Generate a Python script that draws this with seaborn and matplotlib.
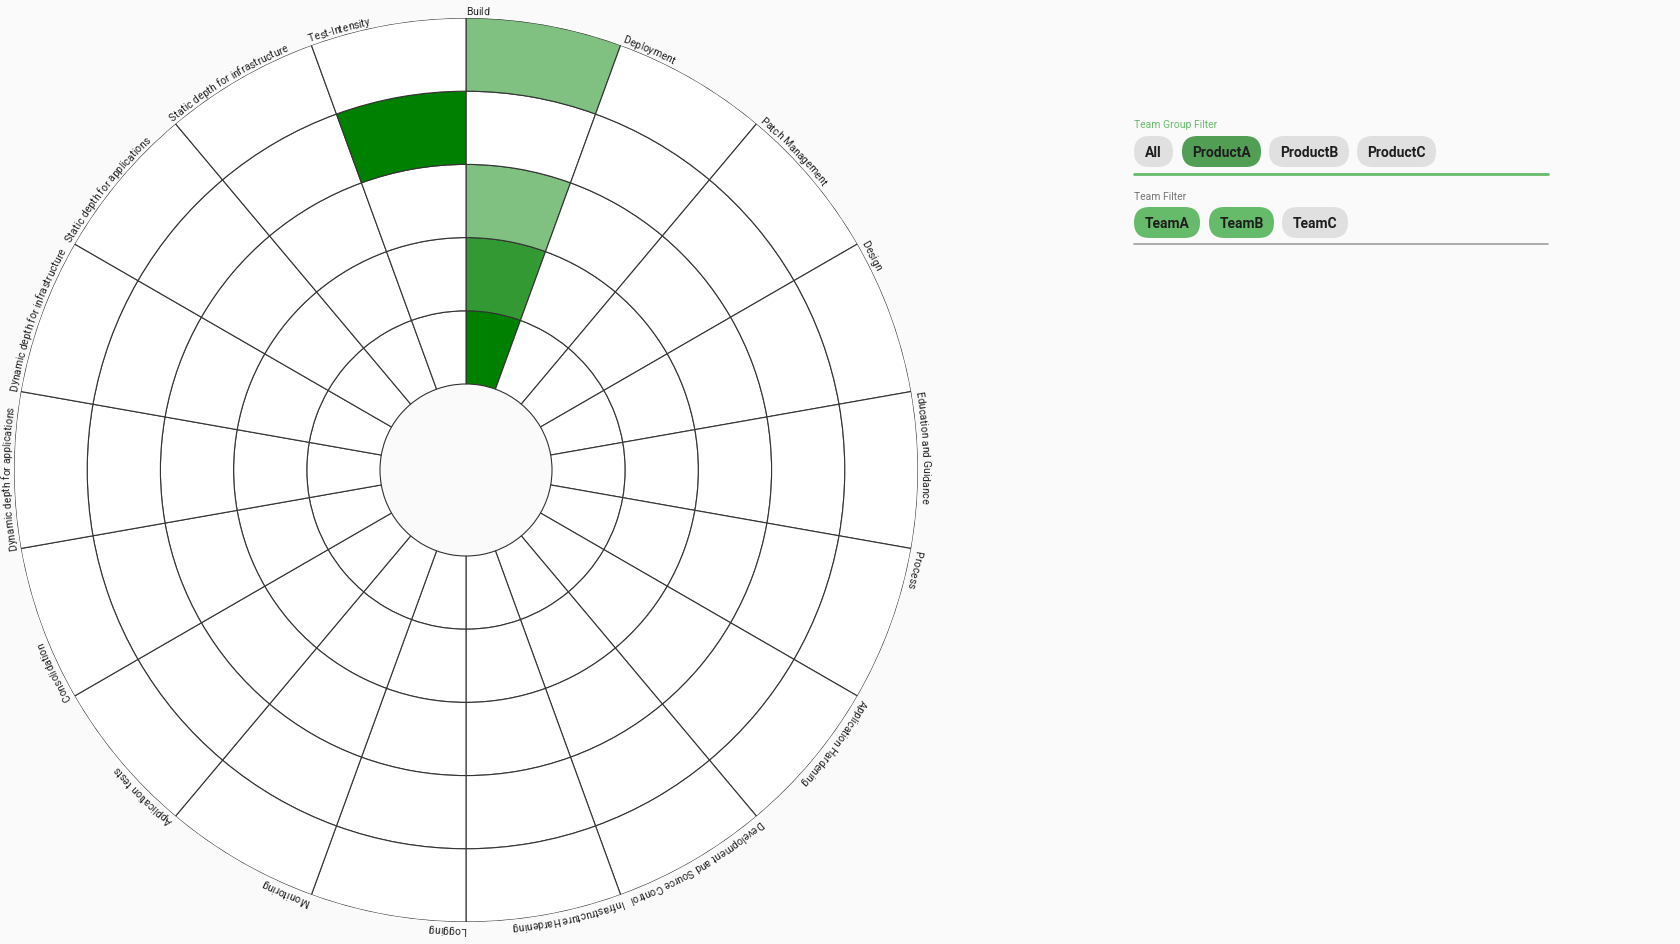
import numpy as np
import matplotlib
matplotlib.use("Agg")
import matplotlib.pyplot as plt
from matplotlib.patches import FancyBboxPatch
from matplotlib.colors import to_rgb
from matplotlib.font_manager import FontProperties, findfont, get_font
import seaborn as sns

# ---- data -------------------------------------------------------------
dimensions = [
    "Build", "Deployment", "Patch Management", "Design",
    "Education and Guidance", "Process", "Application Hardening",
    "Development and Source Control", "Infrastructure Hardening", "Logging",
    "Monitoring", "Application tests", "Consolidation",
    "Dynamic depth for applications", "Dynamic depth for infrastructure",
    "Static depth for applications", "Static depth for infrastructure",
    "Test-Intensity",
]
levels = [1, 2, 3, 4, 5]
# share of implemented activities per dimension and level (0 = none)
build_progress = [1.0, 0.8, 0.5, 0.0, 0.5]
test_intensity_progress = [0.0, 0.0, 0.0, 1.0, 0.0]
progress = {d: [0.0] * len(levels) for d in dimensions}
progress["Build"] = build_progress
progress["Test-Intensity"] = test_intensity_progress

team_groups = ["All", "ProductA", "ProductB", "ProductC"]
selected_group = "ProductA"
teams = ["TeamA", "TeamB", "TeamC"]
selected_teams = ["TeamA", "TeamB"]

# ---- styling ----------------------------------------------------------
sns.set_theme(style="white")
plt.rcParams["font.family"] = ["Roboto", "DejaVu Sans"]
BG = "#fafafa"
GREEN = to_rgb("#008000")
EDGE = "#333333"
LABEL_SIZE = 7.5

W, H, DPI = 1680, 945, 100
fig = plt.figure(figsize=(W / DPI, H / DPI), dpi=DPI, facecolor=BG)

cx, cy, R = 466, 471, 452          # centre and outer radius in pixels
hole = 1.175                        # inner hole radius in ring units
r_max = hole + len(levels)
px_per_unit = R / r_max

ax = fig.add_axes([(cx - R) / W, (H - cy - R) / H, 2 * R / W, 2 * R / H],
                  projection="polar")
ax.set_theta_zero_location("N")
ax.set_theta_direction(-1)
ax.set_facecolor("none")
ax.set_ylim(0, r_max)
ax.grid(False)
ax.set_xticks([])
ax.set_yticks([])
ax.spines["polar"].set_visible(False)

# glyph advances for laying text out along the outer arc
label_font = get_font(findfont(FontProperties(family="Roboto")))
label_font.set_size(LABEL_SIZE, DPI)


def advances(s):
    out = []
    for ch in s:
        g = label_font.load_char(ord(ch))
        out.append(g.linearHoriAdvance / 65536.0)
    return out


def arc_text(theta0, text, gap_px=4.0):
    r_px = R + gap_px
    r_data = r_max + gap_px / px_per_unit
    pos = 0.0
    for ch, adv in zip(text, advances(text)):
        mid = theta0 + (pos + adv / 2) / r_px
        pos += adv
        if ch == " ":
            continue
        ax.text(mid, r_data, ch, rotation=-np.degrees(mid),
                rotation_mode="anchor", ha="center", va="baseline",
                fontsize=LABEL_SIZE, color="#222222")


n = len(dimensions)
step = 2 * np.pi / n
for i, dim in enumerate(dimensions):
    theta = i * step
    for lv, val in zip(levels, progress[dim]):
        face = tuple(1 - val * (1 - c) for c in GREEN)
        ax.bar(theta, 1.0, width=step, bottom=hole + lv - 1, align="edge",
               color=face, edgecolor=EDGE, linewidth=0.8)
    arc_text(theta, dim)

# ---- filter panel ----------------------------------------------------
ov = fig.add_axes([0, 0, 1, 1], facecolor="none")
ov.set_xlim(0, W)
ov.set_ylim(H, 0)
ov.axis("off")


def chip(x0, x1, y0, y1, label, face):
    h = y1 - y0
    ov.add_patch(FancyBboxPatch((x0, y0), x1 - x0, h,
                                boxstyle=f"round,pad=0,rounding_size={h / 2}",
                                facecolor=face, edgecolor="none"))
    ov.text((x0 + x1) / 2, (y0 + y1) / 2 + 0.5, label, ha="center",
            va="center", fontsize=10, fontweight="semibold", color="#1e1e1e")


ov.text(1134, 125, "Team Group Filter", fontsize=7.5, color="#66bb6a",
        va="center", ha="left")
group_x = [(1134, 1173), (1182, 1261), (1269, 1349), (1357, 1436)]
for (x0, x1), g in zip(group_x, team_groups):
    chip(x0, x1, 137, 168, g, "#529e55" if g == selected_group else "#e0e0e0")
ov.plot([1134, 1548], [175, 175], color="#66bb6a", lw=2)

ov.text(1134, 197, "Team Filter", fontsize=7.5, color="#757575",
        va="center", ha="left")
team_x = [(1134, 1200), (1209, 1274), (1282, 1348)]
for (x0, x1), t in zip(team_x, teams):
    chip(x0, x1, 208, 239, t, "#66bb6a" if t in selected_teams else "#e0e0e0")
ov.plot([1134, 1548], [245, 245], color="#9e9e9e", lw=1.2)

fig.savefig("out.png", dpi=DPI, facecolor=BG)
